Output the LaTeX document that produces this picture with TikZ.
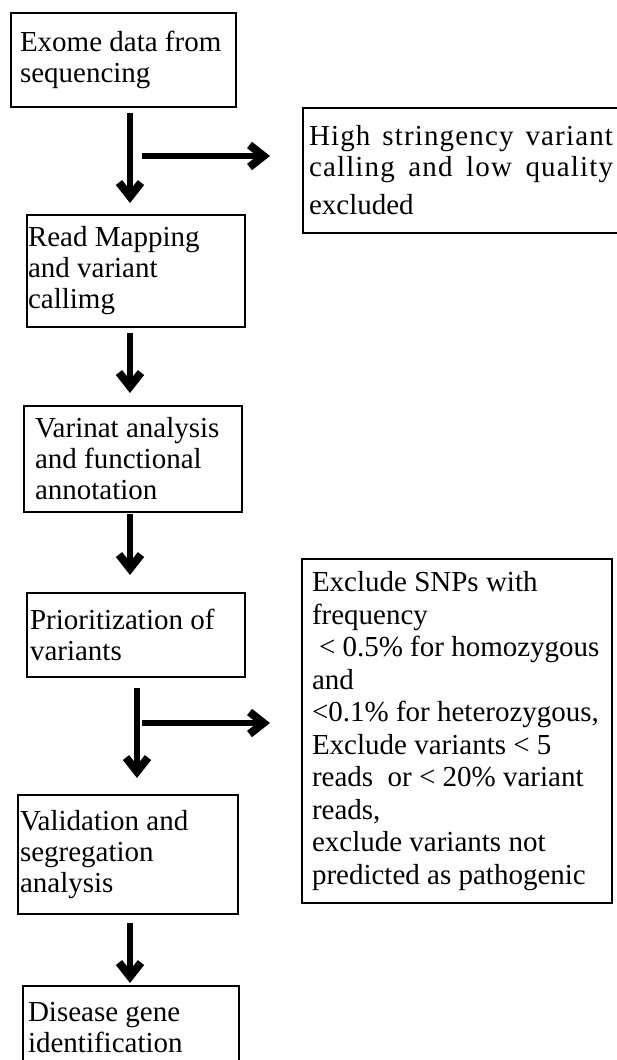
\documentclass[tikz,border=0pt]{standalone}
\usepackage{fontspec}
\setmainfont{Liberation Serif}
\newfontfamily\spacedfont[LetterSpace=4]{Liberation Serif}
\usetikzlibrary{arrows.meta,positioning}

\newcommand{\fullline}[1]{\makebox[\hsize][s]{\spacedfont #1}}

\begin{document}
\begin{tikzpicture}[
    x=1pt, y=-1pt,
    stepbox/.style={draw, line width=1.8pt, outer sep=0pt, anchor=north west, align=flush left,
        inner ysep=0pt, font=\fontsize{29}{31}\selectfont},
    arrow/.style={line width=5.5pt, -{Straight Barb[length=14pt,width=22pt,line width=8pt,sharp]}}
]
    \useasboundingbox (0,0) rectangle (617,1060);

    % Main steps
    \node[stepbox, inner xsep=9pt, text width=207pt, minimum height=94pt] (exome) at (11,13) {Exome data from\\sequencing};
    \node[stepbox, inner xsep=1pt, text width=216pt, minimum height=112pt] (mapping) at (27,215) {Read Mapping\\and variant\\callimg};
    \node[stepbox, inner xsep=11pt, text width=196pt, minimum height=106pt] (annot) at (24,406) {Varinat analysis\\and functional\\annotation};
    \node[stepbox, inner xsep=3pt, text width=212pt, minimum height=84pt] (prior) at (27,593) {Prioritization of\\variants};
    \node[stepbox, inner xsep=2pt, text width=216pt, minimum height=119pt] (valid) at (18,795) {Validation and\\segregation\\analysis};
    \node[stepbox, inner xsep=5pt, text width=206pt, minimum height=83pt] (disease) at (23,986) {Disease gene\\identification};

    % Filters
    \node[stepbox, inner xsep=6pt, text width=304pt, minimum height=125pt] (quality) at (303,108) {\fullline{High stringency variant}\\\fullline{calling and low quality}\\[7pt]excluded};
    \node[stepbox, inner xsep=10pt, text width=290pt, minimum height=344pt, font=\fontsize{29}{32.5}\selectfont] (filter) at (302,559) {Exclude SNPs with\\frequency\\\hspace*{7pt}<~0.5\%~for~homozygous\\and\\<0.1\%~for~heterozygous,\\Exclude variants < 5\\reads\ \ or < 20\% variant\\reads,\\exclude variants not\\predicted as pathogenic};

    % Arrows
    \coordinate (j1) at (130,113);
    \coordinate (b1) at (142,156);
    \coordinate (j2) at (130,333);
    \coordinate (j3) at (130,514);
    \coordinate (j4) at (137,688);
    \coordinate (b2) at (142,723);
    \coordinate (j5) at (130,923);

    \draw[arrow] (j1) -- ([yshift=12pt]j1 |- mapping.north);
    \draw[arrow] (b1) -- ([xshift=-33pt]b1 -| quality.west);
    \draw[arrow] (j2) -- ([yshift=13pt]j2 |- annot.north);
    \draw[arrow] (j3) -- ([yshift=18pt]j3 |- prior.north);
    \draw[arrow] (j4) -- ([yshift=17pt]j4 |- valid.north);
    \draw[arrow] (b2) -- ([xshift=-32pt]b2 -| filter.west);
    \draw[arrow] (j5) -- ([yshift=3pt]j5 |- disease.north);
\end{tikzpicture}
\end{document}
